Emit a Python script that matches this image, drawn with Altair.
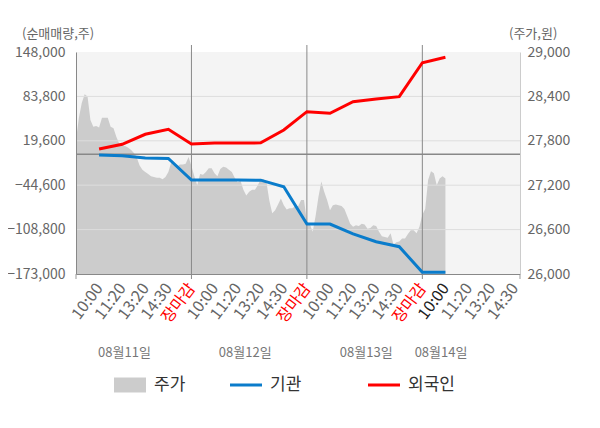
import json
import altair as alt
import pandas as pd

# ---- data (x is measured in "slots": each trading day = 5 slots) ----
time_labels = ["10:00", "11:20", "13:20", "14:30", "장마감"]
date_labels = ["08월11일", "08월12일", "08월13일", "08월14일"]
date_slots = [2.1, 7.33, 12.57, 15.81]
close_slots = [5, 10, 15]
x_end = 19.23

flow_slots = list(range(1, 17))
foreign = [7700, 14500, 29000, 36200, 15000, 16300, 16500, 16600,
           35200, 61700, 59400, 76100, 80000, 83400, 132500, 140300]
institution = [-1000, -1900, -5300, -6000, -37100, -37000, -37200, -37300,
               -46800, -100700, -100700, -115000, -126300, -133500, -170500, -170500]

price_step = 1 / 8
price = [
    27810, 28110, 28310, 28430, 28400, 28080, 27990, 28000, 27980, 28110,
    28110, 28110, 27990, 27970, 27850, 27760, 27740, 27730, 27710, 27680,
    27640, 27580, 27470, 27410, 27380, 27350, 27320, 27310, 27300, 27300,
    27280, 27310, 27380, 27510, 27470, 27450, 27480, 27480, 27490, 27580,
    27460, 27320, 27200, 27350, 27340, 27380, 27430, 27430, 27360, 27320,
    27420, 27450, 27440, 27410, 27380, 27300, 27240, 27260, 27140, 27060,
    27110, 27140, 27140, 27200, 27280, 27280, 27240, 26990, 26820, 26860,
    26940, 27020, 26930, 26870, 26890, 26890, 26920, 26920, 27000, 27000,
    26710, 26680, 26570, 26780, 27040, 27250, 27110, 27000, 26860, 26930,
    26940, 26930, 26920, 26880, 26780, 26680, 26640, 26660, 26650, 26680,
    26670, 26610, 26620, 26660, 26650, 26570, 26510, 26500, 26490, 26550,
    26400, 26430, 26440, 26480, 26480, 26540, 26590, 26590, 26550, 26640,
    26800, 26880, 27270, 27390, 27360, 27200, 27290, 27320, 27290,
]

left_ticks = [148000, 83800, 19600, -44600, -108800, -173000]
right_ticks = [26000, 26600, 27200, 27800, 28400, 29000]
legend_names = ["주가", "기관", "외국인"]
legend_colors = ["#cccccc", "#0a7ccb", "#ff0000"]

FONT = "Noto Sans CJK KR"
W, H = 444, 222

# ---- tables ----
price_df = pd.DataFrame({"slot": [i * price_step for i in range(len(price))], "price": price})
flow_df = pd.DataFrame({"slot": flow_slots, "foreign": foreign, "inst": institution})
grid_df = pd.DataFrame({"v": left_ticks[1:-1]})
zero_df = pd.DataFrame({"v": [0]})
close_df = pd.DataFrame({"slot": close_slots})
edge_df = pd.DataFrame({"slot": [0, x_end]})
date_df = pd.DataFrame({"slot": date_slots, "label": date_labels})
one = alt.Data(values=[{"a": 1}])

tick_slots = list(range(1, 20))
tick_text = [time_labels[(s - 1) % 5] for s in tick_slots]

xscale = alt.Scale(domain=[0, x_end], nice=False, zero=False)
xaxis = alt.Axis(
    values=tick_slots, title=None, grid=False, ticks=False,
    domainColor="#888888", labelAngle=307, labelAlign="right", labelBaseline="middle",
    labelPadding=11, labelFontSize=16, labelFont=FONT, labelOverlap=False,
    labelFlush=False, labelBound=False, zindex=1,
    labelExpr=json.dumps(tick_text, ensure_ascii=False) + "[datum.value - 1]",
    labelColor={"expr": "datum.value % 5 == 0 ? '#ff0000' : (datum.value == 16 ? '#222222' : '#666666')"},
)
lscale = alt.Scale(domain=[left_ticks[-1], left_ticks[0]], nice=False, zero=False)
laxis = alt.Axis(values=left_ticks, format=",d", title=None, grid=False, ticks=False,
                 orient="left", domainColor="#888888", labelColor="#666666",
                 labelFontSize=14, labelFont=FONT, labelPadding=11, zindex=1)
rscale = alt.Scale(domain=[right_ticks[0], right_ticks[-1]], nice=False, zero=False)
raxis = alt.Axis(values=right_ticks, format=",d", title=None, grid=False, ticks=False,
                 orient="right", domainColor="#cccccc", labelColor="#666666",
                 labelFontSize=14, labelFont=FONT, labelPadding=7, zindex=1)


def X(field):
    return alt.X(field, type="quantitative", scale=xscale, axis=xaxis)


area = alt.Chart(price_df).mark_area(color=legend_colors[0]).encode(
    x=X("slot"),
    y=alt.Y("price:Q", scale=rscale, axis=raxis),
    y2=alt.datum(right_ticks[0]),
)

grid = alt.Chart(grid_df).mark_rule(color="#dddddd", strokeWidth=1).encode(
    y=alt.Y("v:Q", scale=lscale, axis=laxis))
zero = alt.Chart(zero_df).mark_rule(color="#888888", strokeWidth=1.5).encode(
    y=alt.Y("v:Q", scale=lscale, axis=laxis))
seps = alt.Chart(close_df).mark_rule(color="#888888", strokeWidth=1).encode(
    x=X("slot"), y=alt.value(-7), y2=alt.value(H + 5))
f_line = alt.Chart(flow_df).mark_line(color=legend_colors[2], strokeWidth=3).encode(
    x=X("slot"), y=alt.Y("foreign:Q", scale=lscale, axis=laxis))
i_line = alt.Chart(flow_df).mark_line(color=legend_colors[1], strokeWidth=3).encode(
    x=X("slot"), y=alt.Y("inst:Q", scale=lscale, axis=laxis))
left_group = alt.layer(grid, zero, seps, i_line, f_line)

edges = alt.Chart(edge_df).mark_rule(color="#999999").encode(
    x=X("slot"), y=alt.value(H), y2=alt.value(H + 5))

dates = alt.Chart(date_df).mark_text(font=FONT, fontSize=13, color="#777777", baseline="middle").encode(
    x=X("slot"), y=alt.value(301), text="label:N")

title_l = alt.Chart(one).mark_text(text="(순매매량,주)", font=FONT, fontSize=13, color="#666666",
                                   align="left", baseline="middle").encode(x=alt.value(-54), y=alt.value(-18))
title_r = alt.Chart(one).mark_text(text="(주가,원)", font=FONT, fontSize=13, color="#666666",
                                   align="left", baseline="middle").encode(x=alt.value(433), y=alt.value(-18))

leg_y = 333
leg_sym_x = [38, 154, 292]
leg_layers = [
    alt.Chart(one).mark_rect(color=legend_colors[0]).encode(
        x=alt.value(leg_sym_x[0]), x2=alt.value(leg_sym_x[0] + 32),
        y=alt.value(leg_y - 7.5), y2=alt.value(leg_y + 7.5)),
]
for i in (1, 2):
    leg_layers.append(alt.Chart(one).mark_rule(color=legend_colors[i], strokeWidth=3).encode(
        x=alt.value(leg_sym_x[i]), x2=alt.value(leg_sym_x[i] + 32), y=alt.value(leg_y)))
for i in range(3):
    leg_layers.append(alt.Chart(one).mark_text(text=legend_names[i], font=FONT, fontSize=17,
                                               color="#333333", align="left", baseline="middle").encode(
        x=alt.value(leg_sym_x[i] + 40), y=alt.value(leg_y)))

chart = alt.layer(area, left_group, edges, dates, title_l, title_r, *leg_layers).resolve_scale(
    y="independent"
).properties(
    width=W, height=H,
    autosize=alt.AutoSizeParams(type="none"),
    padding={"left": 68, "top": 44, "right": 72, "bottom": 140},
).configure(font=FONT).configure_view(fill="#f4f4f4", strokeWidth=0)

chart.save("out.html", embed_options={"renderer": "svg", "actions": False})
